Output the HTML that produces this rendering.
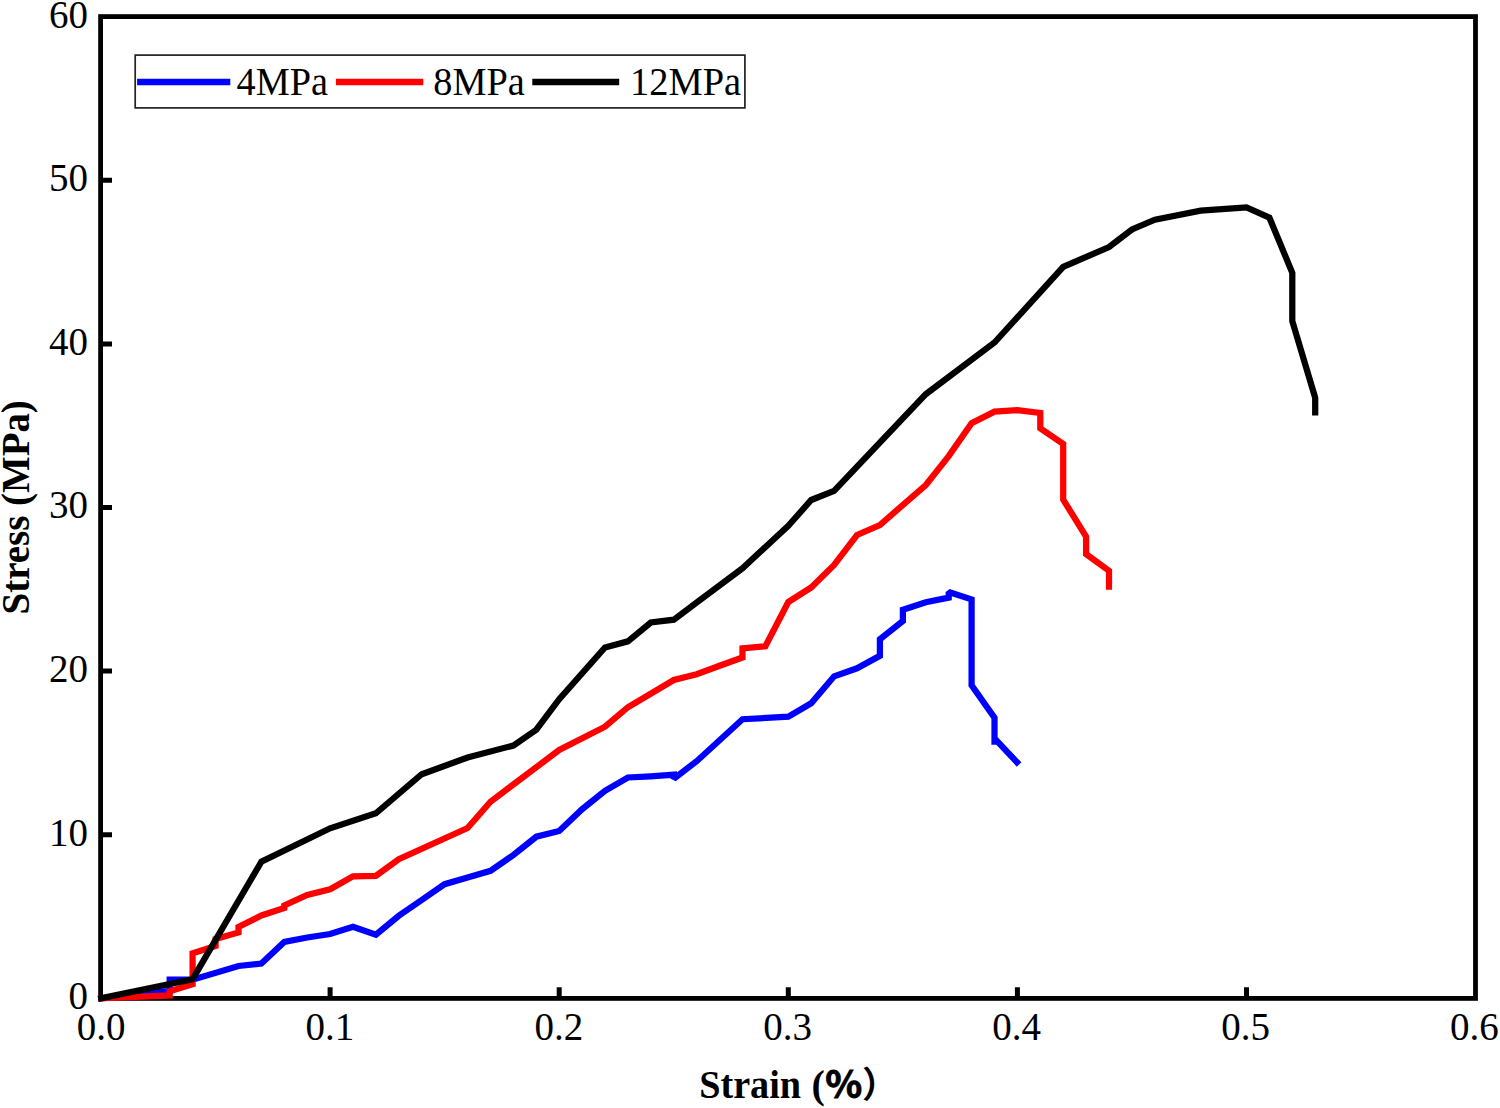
<!DOCTYPE html>
<html>
<head>
<meta charset="utf-8">
<title>Stress-Strain</title>
<style>
html,body{margin:0;padding:0;background:#fff;}
body{width:1500px;height:1108px;overflow:hidden;position:relative;}
svg{position:absolute;left:0;top:0;display:block;}
.t{font-family:"Liberation Serif","Noto Serif CJK SC",serif;font-size:39px;fill:#000;}
.b{font-family:"Liberation Serif","Noto Serif CJK SC",serif;font-size:40px;font-weight:bold;fill:#000;}
</style>
</head>
<body>
<svg width="1500" height="1108" viewBox="0 0 1500 1108">
<rect x="0" y="0" width="1500" height="1108" fill="#fff"/>
<!-- frame -->
<rect x="100.6" y="16.6" width="1374.9" height="981.8" fill="none" stroke="#000" stroke-width="4.8"/>
<!-- x ticks -->
<g stroke="#000" stroke-width="5" fill="none">
<path d="M330.1 998.4V987.2M559.2 998.4V987.2M788.3 998.4V987.2M1017.4 998.4V987.2M1246.5 998.4V987.2"/>
<path d="M100.6 834.8H112M100.6 671.1H112M100.6 507.5H112M100.6 343.9H112M100.6 180.3H112"/>
</g>
<!-- CURVES-BEGIN -->
<g fill="none" stroke-width="6.25" stroke-linejoin="miter" stroke-linecap="butt" stroke-miterlimit="1.6">
<path d="M98.2 998.6 L169.7 990.8 L169.7 979.7 L192.6 979.7 L238.5 966.0 L261.4 963.5 L284.3 942.0 L307.2 937.5 L330.1 934.0 L353.0 926.7 L375.9 934.7 L398.8 915.8 L421.7 900.0 L444.6 884.2 L467.6 877.5 L490.5 870.8 L513.4 855.0 L536.3 836.7 L559.2 831.0 L582.1 809.2 L605.0 790.8 L627.9 777.5 L650.8 776.3 L673.8 774.7 L673.8 778.7 L696.7 761.2 L742.5 719.2 L788.3 716.7 L811.2 703.3 L834.1 676.3 L857.0 668.3 L879.9 655.8 L879.9 639.2 L902.9 621.0 L902.9 609.7 L925.8 602.3 L948.7 597.6 L948.7 592.0 L971.6 599.4 L971.6 685.2 L994.5 717.7 L994.5 744.8 L994.5 738.4 L1019.1 764.5" stroke="#0000ff"/>
<path d="M98.2 998.5 L169.7 995.4 L169.7 991.3 L192.6 984.2 L192.6 953.3 L215.6 946.0 L215.6 939.0 L238.5 932.5 L238.5 927.0 L261.4 915.5 L284.3 908.0 L284.3 905.5 L307.2 895.0 L330.1 889.2 L353.0 876.3 L375.9 875.8 L398.8 859.2 L467.6 828.0 L490.5 801.7 L559.2 750.0 L605.0 726.7 L627.9 707.2 L673.8 680.0 L696.7 674.2 L719.6 665.8 L742.5 657.5 L742.5 648.3 L765.4 646.3 L788.3 602.0 L811.2 587.5 L834.1 565.0 L857.0 535.0 L879.9 525.0 L925.8 485.0 L948.7 456.1 L971.6 423.1 L994.5 411.7 L1017.4 410.2 L1040.3 413.0 L1040.3 428.3 L1063.2 444.0 L1063.2 499.6 L1086.1 536.6 L1086.1 554.1 L1109.0 570.8 L1109.0 589.7" stroke="#ff0000"/>
<path d="M98.2 998.9 L192.6 979.2 L261.4 861.7 L330.1 828.3 L375.9 813.3 L421.7 774.2 L467.6 757.5 L513.4 745.5 L536.3 729.7 L559.2 699.2 L605.0 647.5 L627.9 641.3 L650.8 622.5 L673.8 619.7 L696.7 602.5 L742.5 568.3 L788.3 525.8 L811.2 500.0 L834.1 490.8 L925.8 394.2 L994.5 342.5 L1063.2 266.9 L1109.0 247.0 L1132.0 229.5 L1154.9 219.7 L1200.7 210.6 L1246.5 207.5 L1269.4 217.7 L1292.3 272.8 L1292.3 321.1 L1315.2 397.8 L1315.2 415.4" stroke="#000000"/>
</g>
<!-- CURVES-END -->
<!-- x tick labels -->
<g class="t" text-anchor="middle">
<text x="101.0" y="1040">0.0</text>
<text x="329.9" y="1040">0.1</text>
<text x="558.8" y="1040">0.2</text>
<text x="787.7" y="1040">0.3</text>
<text x="1016.6" y="1040">0.4</text>
<text x="1245.5" y="1040">0.5</text>
<text x="1474.4" y="1040">0.6</text>
</g>
<g class="t" text-anchor="end">
<text x="88" y="1009.3">0</text>
<text x="88" y="845.7">10</text>
<text x="88" y="682">20</text>
<text x="88" y="518.4">30</text>
<text x="88" y="354.8">40</text>
<text x="88" y="191.2">50</text>
<text x="88" y="27.5">60</text>
</g>
<!-- axis titles -->
<text class="b" id="strain" x="699.2" y="1097.7" textLength="101.9" lengthAdjust="spacingAndGlyphs">Strain</text>
<text class="b" id="lp" x="811.6" y="1097.7">(</text>
<text id="pct" x="825.3" y="1097.9" style="font-family:'Noto Sans CJK SC','Liberation Sans',sans-serif;font-weight:bold;font-size:38.4px" fill="#000" stroke="#000" stroke-width="0.9">%</text>
<text id="rp" x="862" y="1097.7" style="font-family:'Noto Sans CJK SC','Liberation Sans',sans-serif;font-weight:bold;font-size:36px" fill="#000">）</text>
<text class="b" id="stress" transform="translate(28.6,507.3) rotate(-90)" text-anchor="middle" textLength="214.2" lengthAdjust="spacingAndGlyphs">Stress (MPa)</text>
<!-- legend -->
<rect x="135.2" y="55.1" width="609.7" height="52.8" fill="#fff" stroke="#222" stroke-width="1.7"/>
<g stroke-width="6.5" fill="none">
<path d="M137.1 82H230.3" stroke="#0000ff"/>
<path d="M335.9 82H423.3" stroke="#ff0000"/>
<path d="M532.3 82H619.2" stroke="#000"/>
</g>
<g class="t" lengthAdjust="spacingAndGlyphs">
<text x="236.6" y="95" textLength="91.5" lengthAdjust="spacingAndGlyphs">4MPa</text>
<text x="433.3" y="95" textLength="91.5" lengthAdjust="spacingAndGlyphs">8MPa</text>
<text x="630" y="95" textLength="111.2" lengthAdjust="spacingAndGlyphs">12MPa</text>
</g>
</svg>
</body>
</html>
